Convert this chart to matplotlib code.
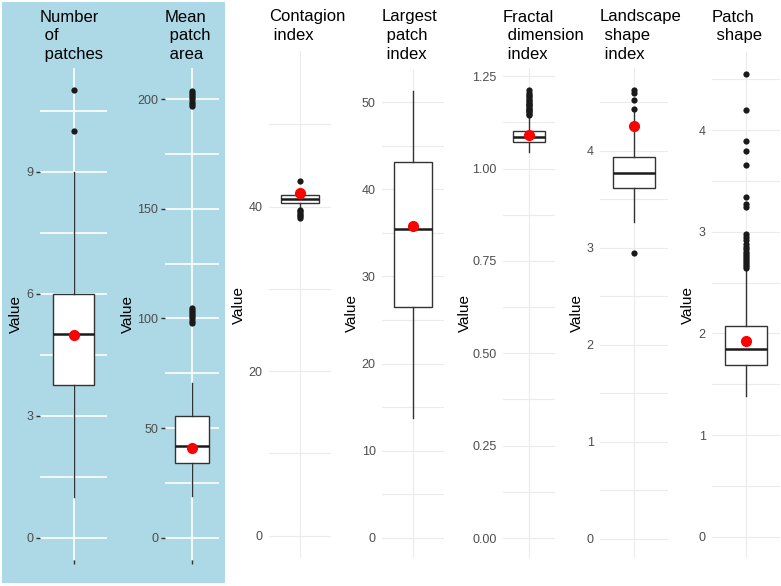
import matplotlib
matplotlib.use('Agg')
import matplotlib.pyplot as plt
from matplotlib.patches import Rectangle

plt.rcParams['font.family'] = ['Liberation Sans', 'DejaVu Sans']

W, H = 781, 586

# panel titles (ggplot style, left aligned with leading spaces)
titles = ['Number\n of\n patches', 'Mean\n patch\n area', 'Contagion\n index',
          'Largest\n patch\n index', 'Fractal\n dimension\n index',
          'Landscape\n shape\n index', 'Patch\n shape']

# box statistics
q1 = [3.75, 34.0, 40.41, 26.5, 1.071, 3.62, 1.69]
med = [5.0, 42.0, 40.9, 35.5, 1.086, 3.77, 1.85]
q3 = [6.0, 55.7, 41.42, 43.1, 1.102, 3.94, 2.07]
whis_lo = [1.0, 19.0, 39.8, 13.8, 1.045, 3.27, 1.38]
whis_hi = [9.0, 70.5, 41.9, 51.3, 1.14, 4.40, 2.62]
means = [4.98, 41.1, 41.7, 35.8, 1.092, 4.26, 1.93]
outliers = [
    [10, 11],
    [98, 99, 100, 101, 102, 103, 104, 105,
     197, 198, 199, 200, 201, 202, 203, 204],
    [43.1, 39.6, 39.4, 39.2, 39.0, 38.8, 38.6],
    [],
    [1.145, 1.148, 1.152, 1.155, 1.158, 1.162, 1.165, 1.168, 1.172,
     1.175, 1.178, 1.182, 1.185, 1.19, 1.195, 1.20, 1.205, 1.213],
    [2.95, 4.43, 4.52, 4.60, 4.63],
    [4.55, 4.20, 3.89, 3.80, 3.66, 3.34, 3.27, 3.24, 2.98, 2.95, 2.92,
     2.88, 2.85, 2.83, 2.80, 2.78, 2.76, 2.74, 2.72, 2.70, 2.68, 2.66, 2.64],
]

yticks = [[0, 3, 6, 9], [0, 50, 100, 150, 200], [0, 20, 40],
          [0, 10, 20, 30, 40, 50], [0, 0.25, 0.5, 0.75, 1.0, 1.25],
          [0, 1, 2, 3, 4], [0, 1, 2, 3, 4]]
ytick_labels = [['0', '3', '6', '9'], ['0', '50', '100', '150', '200'],
                ['0', '20', '40'], ['0', '10', '20', '30', '40', '50'],
                ['0.00', '0.25', '0.50', '0.75', '1.00', '1.25'],
                ['0', '1', '2', '3', '4'], ['0', '1', '2', '3', '4']]
yminor = [[1.5, 4.5, 7.5, 10.5], [25, 75, 125, 175], [10, 30, 50],
          [5, 15, 25, 35, 45], [0.125, 0.375, 0.625, 0.875, 1.125],
          [0.5, 1.5, 2.5, 3.5, 4.5], [0.5, 1.5, 2.5, 3.5, 4.5]]
ylims = [(-0.55, 11.55), (-10.2, 214.3), (-2.7, 58.9), (-2.3, 53.8),
         (-0.054, 1.272), (-0.2, 4.855), (-0.21, 4.77)]

# panel placement in pixels: left, right, top, bottom, label offset
boxes_px = [(40, 107, 68, 560, 24), (165, 219, 68, 560, 37),
            (269, 331, 51, 558, 30), (382, 444, 69, 558, 30),
            (503, 555, 68, 558, 38), (600, 668, 68, 558, 23),
            (712, 780, 52, 558, 24)]
blue = [True, True, False, False, False, False, False]

fig = plt.figure(figsize=(W / 100, H / 100), dpi=100)
fig.add_artist(Rectangle((2 / W, 1 - 583 / H), 223 / W, 581 / H,
                         transform=fig.transFigure, facecolor='#ADD8E6',
                         edgecolor='none', zorder=0))

for i in range(7):
    l, r, t, b, lab = boxes_px[i]
    ax = fig.add_axes([l / W, 1 - b / H, (r - l) / W, (b - t) / H])
    ax.set_facecolor('none')
    for s in ax.spines.values():
        s.set_visible(False)
    ax.set_axisbelow(True)

    stats = dict(q1=q1[i], med=med[i], q3=q3[i], whislo=whis_lo[i],
                 whishi=whis_hi[i], fliers=outliers[i], mean=means[i])
    ax.bxp([stats], positions=[1], widths=0.75, patch_artist=True,
           showcaps=False, showmeans=False,
           boxprops=dict(facecolor='white', edgecolor='#333333', linewidth=1.0),
           medianprops=dict(color='#1a1a1a', linewidth=1.8),
           whiskerprops=dict(color='#333333', linewidth=1.0),
           flierprops=dict(marker='o', markerfacecolor='#1a1a1a',
                           markeredgecolor='none', markersize=4.5))
    ax.plot([1], [means[i]], 'o', color='red', markersize=7, zorder=5)

    ax.set_xlim(0.4, 1.6)
    ax.set_ylim(*ylims[i])
    ax.set_xticks([1])
    ax.set_xticklabels([''])
    ax.set_yticks(yticks[i])
    ax.set_yticklabels(ytick_labels[i])
    ax.set_yticks(yminor[i], minor=True)

    gc = 'white' if blue[i] else '#ebebeb'
    lw = 1.2 if blue[i] else 0.8
    ax.grid(axis='y', which='both', color=gc, linewidth=lw)
    ax.grid(axis='x', which='major', color=gc, linewidth=lw)

    if blue[i]:
        ax.tick_params(axis='both', which='major', length=3, width=1,
                       color='#333333', pad=2, labelsize=9,
                       labelcolor='#4d4d4d')
    else:
        ax.tick_params(axis='both', which='major', length=0, pad=4.5,
                       labelsize=9, labelcolor='#4d4d4d')
    ax.tick_params(axis='y', which='minor', length=0)

    ax.set_ylabel('Value', fontsize=11, color='black', va='center')
    ax.yaxis.set_label_coords(-lab / (r - l), 0.5)

    fig.text(l / W, 1 - 9.5 / H, titles[i], ha='left', va='top',
             fontsize=12, linespacing=1.33, color='black')

fig.savefig('out.png', dpi=100)
